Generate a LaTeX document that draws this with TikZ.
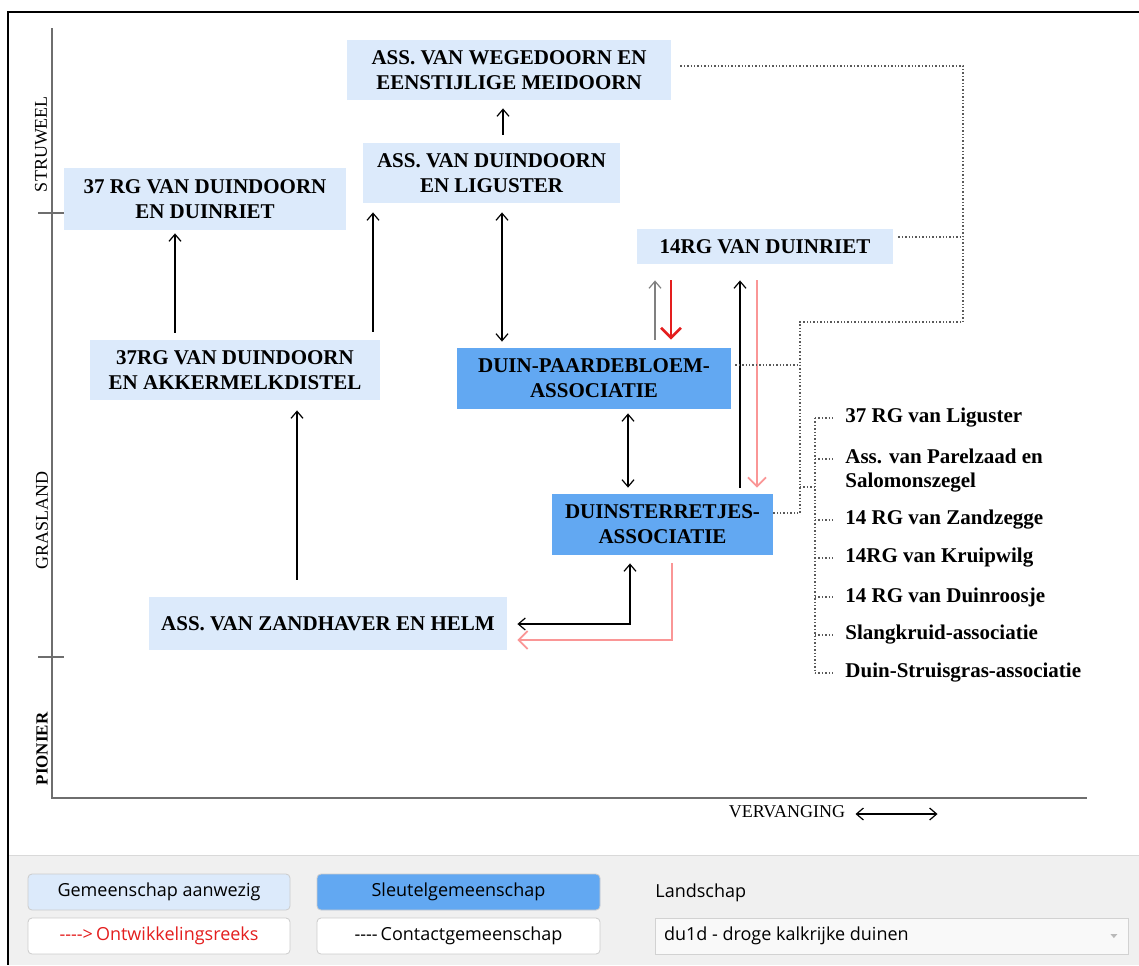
\documentclass[tikz,border=0pt]{standalone}
\usepackage{fontspec}
\setmainfont{Liberation Serif}
\newfontfamily\uifont{Open Sans}
\usetikzlibrary{arrows.meta}

\definecolor{gemblue}{RGB}{220,234,251}
\definecolor{keyblue}{RGB}{98,168,242}
\definecolor{panelgray}{RGB}{240,240,240}
\definecolor{devred}{RGB}{228,30,30}
\definecolor{devpink}{RGB}{250,150,150}
\definecolor{axisgray}{RGB}{110,110,110}

\begin{document}
\begin{tikzpicture}[x=0.5pt, y=-0.5pt,
		>={Straight Barb[length=3.5pt,width=6pt]},
		gem/.style={fill=gemblue, align=center, inner sep=0pt, font=\fontsize{10.5}{12.5}\selectfont\bfseries},
		key/.style={gem, fill=keyblue},
		item/.style={anchor=west, align=left, inner sep=0pt, font=\fontsize{10.5}{12}\selectfont\bfseries},
		axislab/.style={inner sep=0pt, font=\fontsize{9}{10}\selectfont},
		contact/.style={densely dotted, gray!70!black, line width=0.7pt},
		flow/.style={line width=0.6pt},
		ui/.style={inner sep=0pt, font=\uifont\fontsize{9}{11}\selectfont},
		btn/.style={ui, draw=gray!40, rounded corners=2pt, minimum height=18pt}]
	\useasboundingbox (0,0) rectangle (1139,965);
	
	% panel and frame
	\fill[panelgray] (8,855) rectangle (1139,965);
	\draw[gray!30] (8,855) -- (1139,855);
	\draw[line width=1.3pt] (1139,12) -- (8,12) -- (8,965);
	
	% axes
	\draw[axisgray, line width=0.8pt] (52,28) -- (52,798) -- (1087,798);
	\draw[axisgray, line width=0.8pt] (38,213) -- (64,213);
	\draw[axisgray, line width=0.8pt] (38,657) -- (64,657);
	\node[axislab, rotate=90] (struweel) at (41,144) {STRUWEEL};
	\node[axislab, rotate=90] (grasland) at (42,520) {GRASLAND};
	\node[axislab, rotate=90, font=\fontsize{8.5}{10}\selectfont\bfseries] (pionier) at (42,749) {PIONIER};
	\node[axislab] (vervanging) at (787,812) {VERVANGING};
	\draw[<->, flow] ([xshift=5pt,yshift=-1pt]vervanging.east) -- ++(82,0);
	
	% communities
	\node[gem, minimum width=162pt, minimum height=30pt] (wegedoorn) at (509,70) {ASS. VAN WEGEDOORN EN\\EENSTIJLIGE MEIDOORN};
	\node[gem, minimum width=128.5pt, minimum height=30pt] (liguster) at (491.5,173) {ASS. VAN DUINDOORN\\EN LIGUSTER};
	\node[gem, minimum width=141pt, minimum height=31pt] (duinriet37) at (205,199) {37 RG VAN DUINDOORN\\EN DUINRIET};
	\node[gem, minimum width=128pt, minimum height=17.5pt] (duinriet14) at (765,246.5) {14RG VAN DUINRIET};
	\node[gem, minimum width=145pt, minimum height=30pt] (akker) at (235,370) {37RG VAN DUINDOORN\\EN AKKERMELKDISTEL};
	\node[key, minimum width=137pt, minimum height=30.5pt] (paardebloem) at (594,378.5) {DUIN-PAARDEBLOEM-\\ASSOCIATIE};
	\node[key, minimum width=110.5pt, minimum height=30.5pt] (sterretjes) at (662.5,524.5) {DUINSTERRETJES-\\ASSOCIATIE};
	\node[gem, minimum width=179pt, minimum height=26.5pt] (zandhaver) at (328,623.5) {ASS. VAN ZANDHAVER EN HELM};
	
	\node[item] (l1) at (845,418) {37 RG van Liguster};
	\node[item] (l2) at (845,471) {Ass. van Parelzaad en\\Salomonszegel};
	\node[item] (l3) at (845,520) {14 RG van Zandzegge};
	\node[item] (l4) at (845,558) {14RG van Kruipwilg};
	\node[item] (l5) at (845,597) {14 RG van Duinroosje};
	\node[item] (l6) at (845,635) {Slangkruid-associatie};
	\node[item] (l7) at (845,673) {Duin-Struisgras-associatie};
	
	% development
	\draw[->, flow, shorten <=4pt, shorten >=4pt] (liguster.north -| 503,0) to (wegedoorn.south -| 503,0);
	\draw[->, flow, shorten <=3.5pt, shorten >=1.5pt] (akker.north -| 175,0) to (duinriet37.south -| 175,0);
	\draw[->, flow, shorten <=4pt, shorten >=4.5pt] (akker.north -| 373,0) to (liguster.south -| 373,0);
	\draw[<->, flow, shorten <=4.5pt, shorten >=3pt] (liguster.south -| 502,0) to (paardebloem.north -| 502,0);
	\draw[->, flow, shorten <=8.5pt, shorten >=5pt] (zandhaver.north -| 297,0) to (akker.south -| 297,0);
	\draw[<->, flow, shorten <=2pt, shorten >=3pt] (paardebloem.south -| 628,0) to (sterretjes.north -| 628,0);
	\draw[->, flow, gray, shorten <=4pt, shorten >=8pt] (paardebloem.north -| 655,0) to (duinriet14.south -| 655,0);
	\draw[->, devred, line width=1.3pt, >={Straight Barb[length=5pt,width=10pt]}, shorten <=8pt, shorten >=4pt] (duinriet14.south -| 671,0) to (paardebloem.north -| 671,0);
	\draw[->, flow, shorten <=3pt, shorten >=8pt] (sterretjes.north -| 740,0) to (duinriet14.south -| 740,0);
	\draw[->, devpink, line width=0.9pt, >={Straight Barb[length=4.5pt,width=9pt]}, shorten <=8pt, shorten >=3pt] (duinriet14.south -| 757,0) to (sterretjes.north -| 757,0);
	\draw[<->, flow, shorten <=5pt, shorten >=4pt] (zandhaver.east |- 0,624) -| (sterretjes.south -| 630,0);
	\draw[->, devpink, line width=0.9pt, >={Straight Barb[length=4.5pt,width=9pt]}, shorten <=4pt, shorten >=5pt] (sterretjes.south -| 672,0) |- (zandhaver.east |- 0,640);
	
	% contact
	\coordinate (corner) at (963,66);
	\coordinate (bend) at (963,322);
	\coordinate (spine) at (800,513);
	\coordinate (hub) at (800,487);
	\coordinate (bracket) at (815,487);
	\draw[contact, shorten <=4.5pt] (wegedoorn.east |- corner) -- (corner) -- (bend) -| (spine) -- (sterretjes.east |- spine);
	\draw[contact, shorten <=2.5pt] (duinriet14.east |- 0,237) -- (corner |- 0,237);
	\draw[contact, shorten <=2pt] (paardebloem.east |- 0,365) -- (spine |- 0,365);
	\draw[contact] (hub) -- (bracket);
	\draw[contact] (bracket |- l1.west) -- (bracket |- l7.west);
	\foreach \n/\y in {l1/418, l2/459, l3/520, l4/558, l5/597, l6/635, l7/673}
		\draw[contact, shorten >=5pt] (bracket |- 0,\y) -- (\n.west |- 0,\y);
	
	% legend
	\node[btn, fill=gemblue, minimum width=131pt] (aanwezig) at (159,892) {Gemeenschap aanwezig};
	\node[btn, fill=keyblue, minimum width=141.5pt] (sleutel) at (458.5,892) {Sleutelgemeenschap};
	\node[btn, fill=white, text=devred, minimum width=131pt] (reeks) at (159,936) {-{}-{}-{}->\,Ontwikkelingsreeks};
	\node[btn, fill=white, minimum width=141.5pt] (contactleg) at (458.5,936) {-{}-{}-{}-\,Contactgemeenschap};
	\node[ui, anchor=west] (landschap) at (655,893) {Landschap};
	\node[ui, draw=gray!35, fill=gray!5, minimum width=236.5pt, minimum height=18pt] (combo) at (891.5,936) {};
	\node[ui, anchor=west] (combotext) at ([xshift=4.5pt]combo.west) {du1d - droge kalkrijke duinen};
	\fill[gray!55] ([xshift=-9pt,yshift=1pt]combo.east) -- ++(7,0) -- ++(-3.5,4) -- cycle;
\end{tikzpicture}
\end{document}
